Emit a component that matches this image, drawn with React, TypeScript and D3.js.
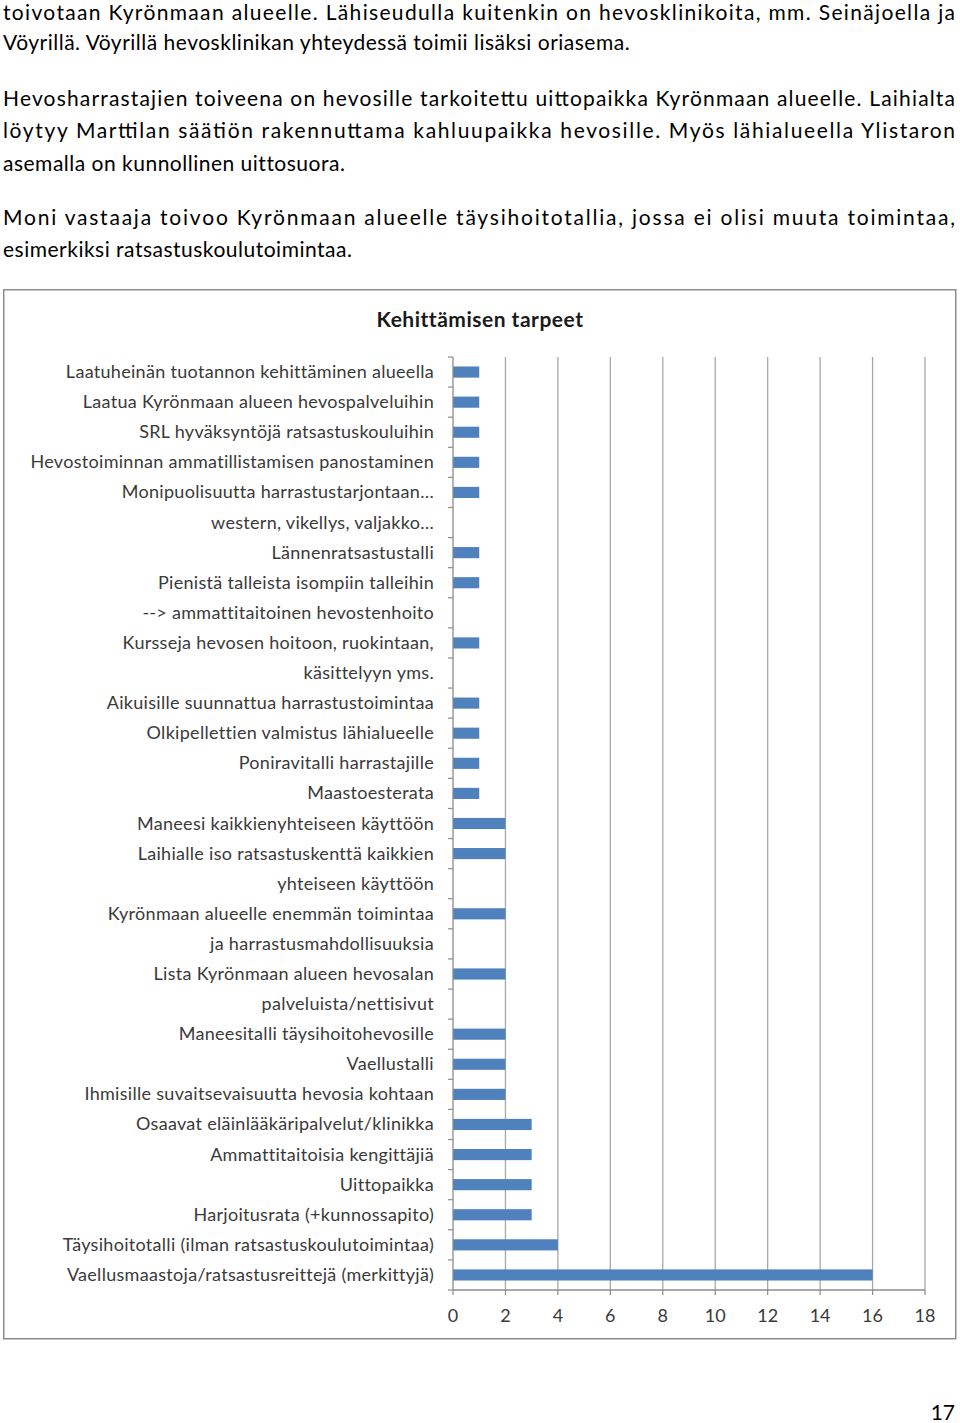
import React from "react";
import * as d3 from "d3";

const categories: string[] = [
  "Laatuheinän tuotannon kehittäminen alueella",
  "Laatua Kyrönmaan alueen hevospalveluihin",
  "SRL hyväksyntöjä ratsastuskouluihin",
  "Hevostoiminnan ammatillistamisen panostaminen",
  "Monipuolisuutta harrastustarjontaan…",
  "western, vikellys, valjakko…",
  "Lännenratsastustalli",
  "Pienistä talleista isompiin talleihin",
  "--> ammattitaitoinen hevostenhoito",
  "Kursseja hevosen hoitoon, ruokintaan,",
  "käsittelyyn yms.",
  "Aikuisille suunnattua harrastustoimintaa",
  "Olkipellettien valmistus lähialueelle",
  "Poniravitalli harrastajille",
  "Maastoesterata",
  "Maneesi kaikkienyhteiseen käyttöön",
  "Laihialle iso ratsastuskenttä kaikkien",
  "yhteiseen käyttöön",
  "Kyrönmaan alueelle enemmän toimintaa",
  "ja harrastusmahdollisuuksia",
  "Lista Kyrönmaan alueen hevosalan",
  "palveluista/nettisivut",
  "Maneesitalli täysihoitohevosille",
  "Vaellustalli",
  "Ihmisille suvaitsevaisuutta hevosia kohtaan",
  "Osaavat eläinlääkäripalvelut/klinikka",
  "Ammattitaitoisia kengittäjiä",
  "Uittopaikka",
  "Harjoitusrata (+kunnossapito)",
  "Täysihoitotalli (ilman ratsastuskoulutoimintaa)",
  "Vaellusmaastoja/ratsastusreittejä (merkittyjä)",
];

const values: number[] = [
  1, 1, 1, 1, 1, 0, 1, 1, 0, 1, 0, 1, 1, 1, 1, 2, 2, 0, 2, 0, 2, 0, 2, 2, 2, 3,
  3, 3, 3, 4, 16,
];

const xTicks: number[] = [0, 2, 4, 6, 8, 10, 12, 14, 16, 18];

const title = "Kehittämisen tarpeet";

const bodyLines: { text: string; justify: boolean }[] = [
  { text: "toivotaan Kyrönmaan alueelle. Lähiseudulla kuitenkin on hevosklinikoita, mm. Seinäjoella ja", justify: true },
  { text: "Vöyrillä. Vöyrillä hevosklinikan yhteydessä toimii lisäksi oriasema.", justify: false },
  { text: "Hevosharrastajien toiveena on hevosille tarkoitettu uittopaikka Kyrönmaan alueelle. Laihialta", justify: true },
  { text: "löytyy Marttilan säätiön rakennuttama kahluupaikka hevosille. Myös lähialueella Ylistaron", justify: true },
  { text: "asemalla on kunnollinen uittosuora.", justify: false },
  { text: "Moni vastaaja toivoo Kyrönmaan alueelle täysihoitotallia, jossa ei olisi muuta toimintaa,", justify: true },
  { text: "esimerkiksi ratsastuskoulutoimintaa.", justify: false },
];
const bodyBaselines = [20, 50, 106, 138, 171, 225, 257];

const pageNumber = "17";

const FONT = "Lato, 'Open Sans', sans-serif";

export default function App() {
  const W = 960;
  const H = 1423;
  const plotTop = 357;
  const plotBottom = 1290;
  const x = d3.scaleLinear().domain([0, 18]).range([453, 925]);
  const y = d3
    .scaleBand<string>()
    .domain(categories.map((_, i) => String(i)))
    .range([plotTop, plotBottom])
    .padding(0);
  const step = y.step();
  const barH = step * 0.37;
  const boundaries = d3.range(categories.length + 1).map((i) => plotTop + i * step);

  return (
    <svg
      width={W}
      height={H}
      style={{ position: "absolute", left: 0, top: 0, display: "block", background: "#fff" }}
      fontFamily={FONT}
    >
      <rect x={0} y={0} width={W} height={H} fill="#fff" />
      {bodyLines.map((l, i) => (
        <text
          key={i}
          x={3}
          y={bodyBaselines[i]}
          fontSize={21}
          letterSpacing={l.justify ? 0 : 0.5}
          fill="#000"
          {...(l.justify ? { textLength: 952, lengthAdjust: "spacing" } : {})}
        >
          {l.text}
        </text>
      ))}

      <rect x={3.75} y={289.75} width={952} height={1049} fill="#fff" stroke="#8e8e8e" strokeWidth={1.5} />

      <text x={480} y={327} textAnchor="middle" fontSize={21} letterSpacing={0.5} fontWeight={700} fill="#1a1a1a">
        {title}
      </text>

      {xTicks.slice(1).map((t) => (
        <line key={t} x1={x(t)} x2={x(t)} y1={plotTop} y2={plotBottom} stroke="#a8a8a8" strokeWidth={1.3} />
      ))}

      {values.map((v, i) =>
        v > 0 ? (
          <rect
            key={i}
            x={x(0)}
            y={(y(String(i)) as number) + step / 2 - barH / 2}
            width={x(v) - x(0)}
            height={barH}
            fill="#4f81bd"
          />
        ) : null
      )}

      <line x1={x(0)} x2={x(0)} y1={plotTop} y2={plotBottom} stroke="#8c8c8c" strokeWidth={1.3} />
      {boundaries.map((b, i) => (
        <line key={i} x1={x(0) - 5} x2={x(0)} y1={b} y2={b} stroke="#8c8c8c" strokeWidth={1.2} />
      ))}
      <line x1={x(0)} x2={x(18)} y1={plotBottom} y2={plotBottom} stroke="#8c8c8c" strokeWidth={1.3} />
      {xTicks.map((t) => (
        <line key={t} x1={x(t)} x2={x(t)} y1={plotBottom} y2={plotBottom + 5} stroke="#8c8c8c" strokeWidth={1.2} />
      ))}

      {categories.map((c, i) => (
        <text
          key={i}
          x={434}
          y={(y(String(i)) as number) + step / 2 + 6}
          textAnchor="end"
          fontSize={18}
          letterSpacing={0.3}
          fill="#3a3a3a"
        >
          {c}
        </text>
      ))}

      {xTicks.map((t) => (
        <text key={t} x={x(t)} y={1322} textAnchor="middle" fontSize={18} fill="#3a3a3a">
          {t}
        </text>
      ))}

      <text x={955} y={1420} textAnchor="end" fontSize={21} fill="#000">
        {pageNumber}
      </text>
    </svg>
  );
}
